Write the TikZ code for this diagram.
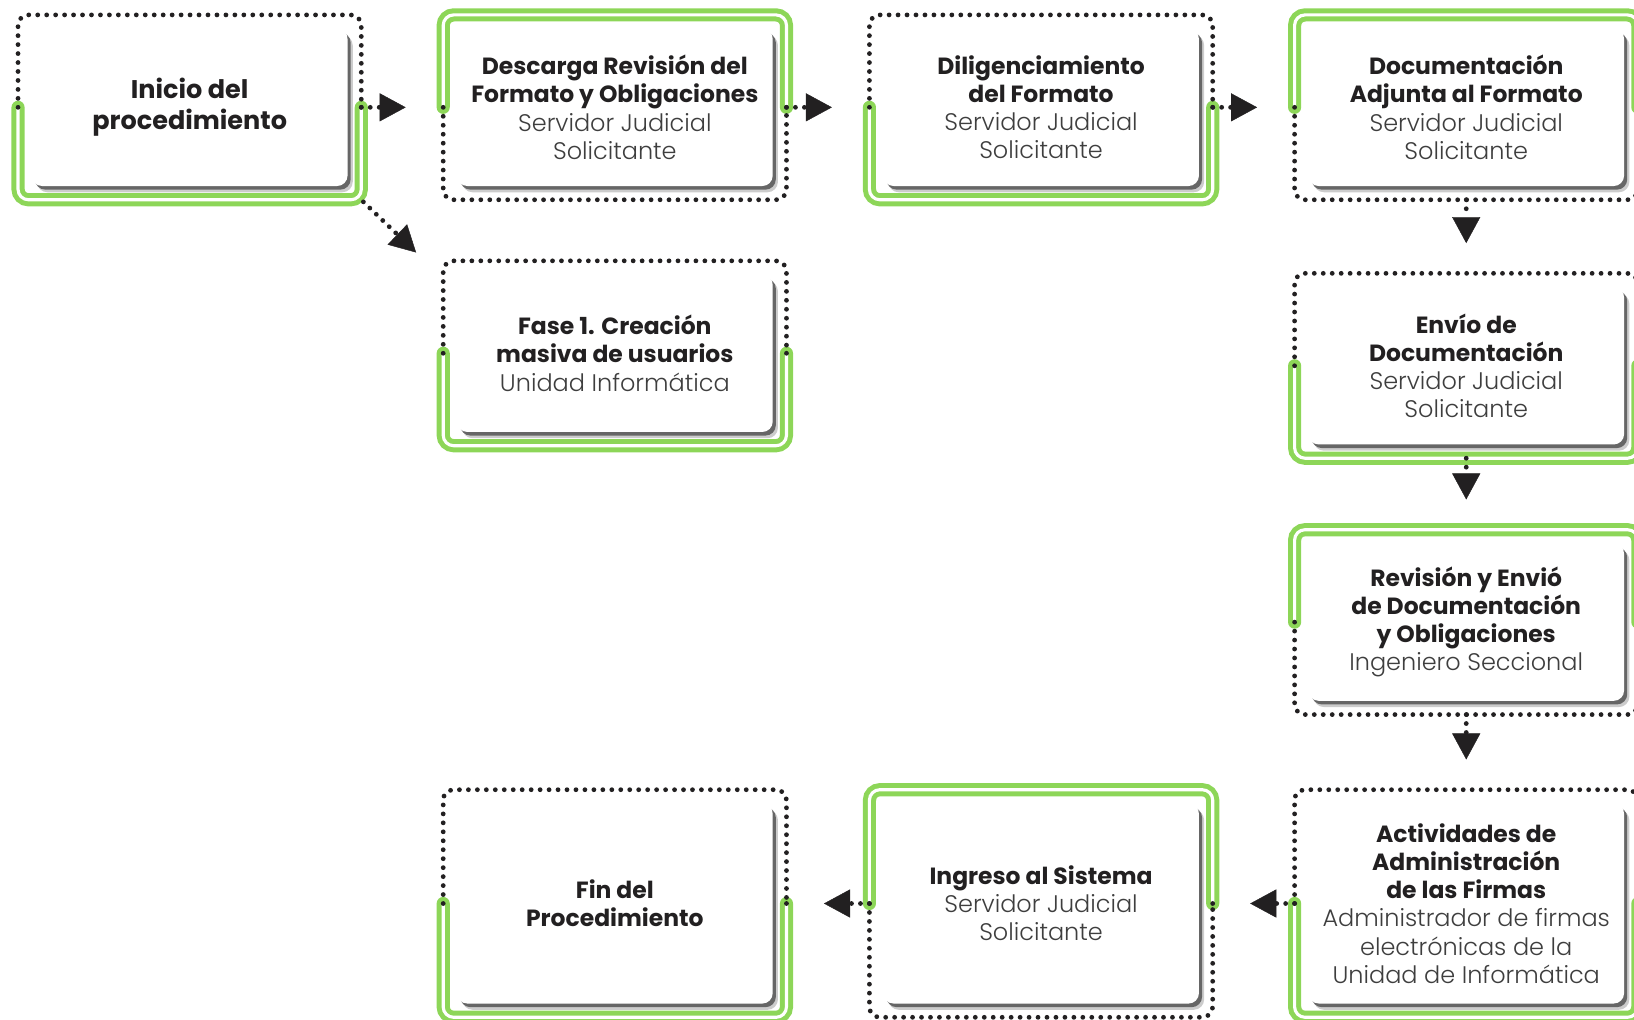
\documentclass[tikz,border=0pt]{standalone}
\usepackage{fontspec}
\setmainfont{Poppins}
\newfontfamily\lightfont{Poppins Light}
\usetikzlibrary{arrows.meta, shadows, calc}
\definecolor{framegreen}{RGB}{141,214,88}
\definecolor{titlegray}{RGB}{34,32,33}
\definecolor{rolegray}{RGB}{62,62,62}
\tikzstyle{card} = [rectangle, rounded corners=10pt, minimum width=303pt, minimum height=151pt, align=center, fill=white, text=titlegray, font=\fontsize{22.5}{27}\selectfont\bfseries, drop shadow={shadow xshift=5pt, shadow yshift=-6pt, fill=black, opacity=0.2}, drop shadow={shadow xshift=3pt, shadow yshift=-3.5pt, fill=black, opacity=0.5}]
\tikzstyle{tall} = [minimum height=192pt]
\tikzstyle{dotline} = [line width=4.6pt, line cap=round, dash pattern=on 0pt off 8.6pt, draw=titlegray]
\tikzstyle{greenline} = [draw=framegreen, line width=4.8pt, double=white, double distance=3pt, line cap=round, rounded corners=10pt]
\tikzstyle{arrow} = [dotline, -{Triangle[length=25pt, width=27pt, line width=0.4pt]}, shorten <=13pt, shorten >=49pt]
\newcommand{\who}[1]{{\lightfont\mdseries\fontsize{23}{27}\selectfont\color{rolegray}#1}}

\begin{document}
\begin{tikzpicture}[x=1pt, y=-1pt]
	\useasboundingbox (0,0) rectangle (1568,978);
	\clip (0,0) rectangle (1568,978);
	\node (inicio) [card, font=\fontsize{24.5}{30}\selectfont\bfseries] at (182,103) {Inicio del\\procedimiento};
	\node (descarga) [card] at (590,103) {Descarga Revisión del\\Formato y Obligaciones\\\who{Servidor Judicial}\\\who{Solicitante}};
	\node (diligencia) [card] at (999,103) {Diligenciamiento\\del Formato\\\who{Servidor Judicial}\\\who{Solicitante}};
	\node (docadj) [card] at (1407,103) {Documentación\\Adjunta al Formato\\\who{Servidor Judicial}\\\who{Solicitante}};
	\node (fase) [card] at (590,339) {Fase 1. Creación\\masiva de usuarios\\\who{Unidad Informática}};
	\node (envio) [card] at (1407,351) {Envío de\\Documentación\\\who{Servidor Judicial}\\\who{Solicitante}};
	\node (revision) [card] at (1407,597) {Revisión y Envió\\de Documentación\\y Obligaciones\\\who{Ingeniero Seccional}};
	\node (actividades) [card, tall] at (1407,867) {Actividades de\\Administración\\de las Firmas\\\who{Administrador de firmas}\\\who{electrónicas de la}\\\who{Unidad de Informática}};
	\node (ingreso) [card, tall] at (999,867) {Ingreso al Sistema\\\who{Servidor Judicial}\\\who{Solicitante}};
	\node (fin) [card, tall] at (590,867) {Fin del\\Procedimiento};
	% half green, half dotted frames
	\foreach \n/\g/\d in {inicio/south/north, descarga/north/south, diligencia/south/north, docadj/north/south, fase/south/north, envio/south/north, revision/north/south, actividades/south/north, ingreso/north/south, fin/south/north} {
		\draw [greenline] ($(\n.west)!-13pt!(\n.center)$) |- ($(\n.\g)!-13pt!(\n.center)$) -| ($(\n.east)!-13pt!(\n.center)$);
		\draw [dotline, rounded corners=10pt] ($(\n.west)!-13pt!(\n.center)$) |- ($(\n.\d)!-13pt!(\n.center)$) -| ($(\n.east)!-13pt!(\n.center)$);
		\fill [titlegray] ($(\n.east)!-13pt!(\n.center)$) circle (2.3pt);
	}
	\draw [arrow] (inicio) -- (descarga);
	\draw [arrow] (descarga) -- (diligencia);
	\draw [arrow] (diligencia) -- (docadj);
	\draw [arrow, shorten >=42pt] (docadj) -- (envio);
	\draw [arrow, shorten >=42pt] (envio) -- (revision);
	\draw [arrow, shorten >=42pt] (revision) -- (actividades);
	\draw [arrow] (actividades) -- (ingreso);
	\draw [arrow] (ingreso) -- (fin);
	\draw [arrow, shorten <=0pt, shorten >=0pt] ([xshift=15pt, yshift=-15pt]inicio.south east) -- ([xshift=-39pt, yshift=21pt]fase.north west);
\end{tikzpicture}
\end{document}
